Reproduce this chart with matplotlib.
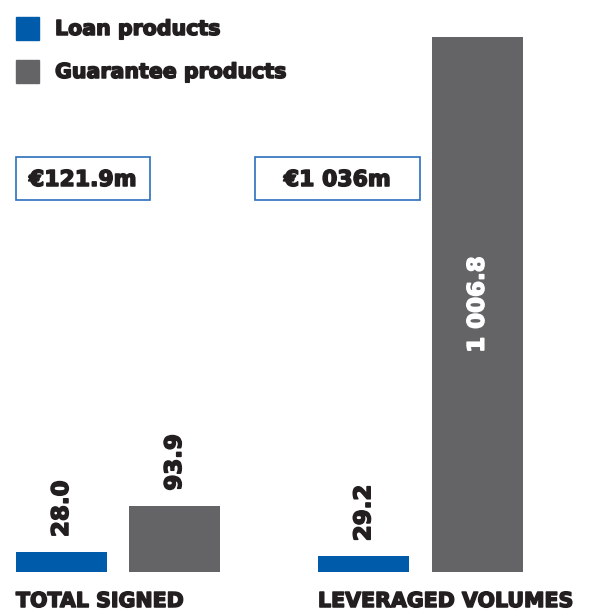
import matplotlib.pyplot as plt
import matplotlib.patheffects as pe
from matplotlib.patches import Rectangle

# Values in EUR million
groups = ["TOTAL SIGNED", "LEVERAGED VOLUMES"]
series = ["Loan products", "Guarantee products"]
loan_values = [28.0, 29.2]
guarantee_values = [93.9, 1006.8]
totals = ["€121.9m", "€1 036m"]
value_labels = [["28.0", "93.9"], ["29.2", "1 006.8"]]

BLUE = "#005baa"
GREY = "#646466"
INK = "#231f20"
FONT = ["DejaVu Sans"]

W, H = 594, 613
fig = plt.figure(figsize=(W / 100, H / 100), dpi=100)


def fx(px):
    return px / W


def fy(py):
    return 1 - py / H


def heavy(color):
    # thicken DejaVu Bold strokes a little
    return [pe.withStroke(linewidth=1.1, foreground=color)]


# legend squares + labels
for i, (name, col) in enumerate(zip(series, [BLUE, GREY])):
    top = 17 + i * 43
    fig.patches.append(Rectangle((fx(16), fy(top + 23)), fx(23), 23 / H,
                                 transform=fig.transFigure, color=col))
    fig.text(fx(55), fy(top + 12), name, fontsize=14.8, fontweight="bold",
             family=FONT, color=INK, va="center", ha="left",
             path_effects=heavy(INK))

# one axes per group, each with its own vertical scale
axes_px = [(16, 220), (318, 523)]
ylims = [760, 1006.8]
box_px = [(16, 150), (255, 420)]
width = 91 / 113

for g in range(2):
    x0, x1 = axes_px[g]
    ax = fig.add_axes([fx(x0), fy(572), fx(x1 - x0), 535 / H])
    vals = [loan_values[g], guarantee_values[g]]
    bars = ax.bar([0, 1], vals, width=width, color=[BLUE, GREY])
    ax.set_xlim(-width / 2, 1 + width / 2)
    ax.set_ylim(0, ylims[g])
    ax.axis("off")

    for j, (b, v) in enumerate(zip(bars, vals)):
        xc = b.get_x() + b.get_width() / 2
        if v > ylims[g] * 0.5:
            ax.text(xc, v / 2, value_labels[g][j], rotation=90, ha="center",
                    va="center", fontsize=16.5, fontweight="bold",
                    family=FONT, color="white", path_effects=heavy("white"))
        else:
            ax.annotate(value_labels[g][j], (xc, v), xytext=(0, 11),
                        textcoords="offset points", rotation=90, ha="center",
                        va="bottom", fontsize=16.5, fontweight="bold",
                        family=FONT, color=INK, path_effects=heavy(INK))

    # group name under the bars
    fig.text(fx(x0), fy(591), groups[g], fontsize=14.8, fontweight="bold",
             family=FONT, color=INK, ha="left", va="top",
             path_effects=heavy(INK))

    # total in an outlined box
    bx0, bx1 = box_px[g]
    fig.patches.append(Rectangle((fx(bx0), fy(200)), fx(bx1 - bx0), 43 / H,
                                 transform=fig.transFigure, fill=False,
                                 edgecolor="#2a6fbe", linewidth=1.2))
    fig.text(fx((bx0 + bx1) / 2), fy(180), totals[g], fontsize=15.8,
             fontweight="bold", family=FONT, color=INK,
             ha="center", va="center", path_effects=heavy(INK))

fig.savefig("out.png", dpi=100)
